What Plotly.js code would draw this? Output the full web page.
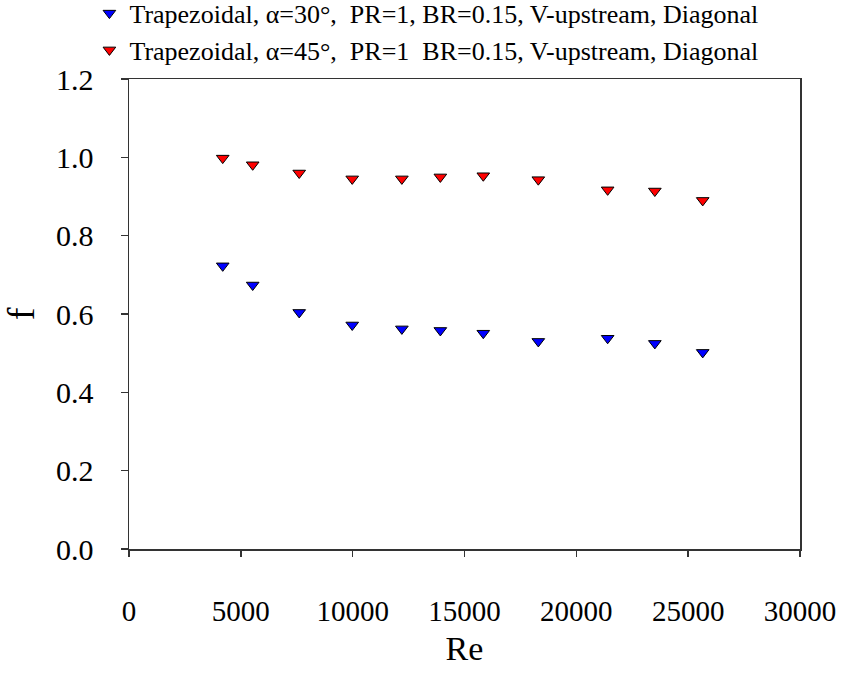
<!DOCTYPE html>
<html>
<head>
<meta charset="utf-8">
<script src="https://cdn.plot.ly/plotly-3.0.1.min.js"></script>
<style>html,body{margin:0;padding:0;background:#fff;}#chart{width:842px;height:673px;}</style>
</head>
<body>
<div id="chart"></div>
<script>
const reA30 = [4190, 5530, 7610, 9980, 12200, 13920, 15840, 18300, 21400, 23510, 25650];
const fA30  = [0.723, 0.674, 0.604, 0.572, 0.562, 0.558, 0.551, 0.530, 0.538, 0.525, 0.502];
const reA45 = [4190, 5530, 7610, 9980, 12200, 13920, 15840, 18300, 21400, 23510, 25650];
const fA45  = [0.998, 0.981, 0.960, 0.945, 0.945, 0.950, 0.953, 0.943, 0.917, 0.914, 0.890];
const seriesNames = [
  "Trapezoidal, α=30°,  PR=1, BR=0.15, V-upstream, Diagonal",
  "Trapezoidal, α=45°,  PR=1  BR=0.15, V-upstream, Diagonal"
];
const xTicks = [0, 5000, 10000, 15000, 20000, 25000, 30000];
const yTicks = [0, 0.2, 0.4, 0.6, 0.8, 1.0, 1.2];

const serif = "'Liberation Serif', 'Times New Roman', Times, serif";
const traces = [
  {x: reA30, y: fA30, name: seriesNames[0], type: "scatter", mode: "markers", legendgroup: "a",
   marker: {symbol: "triangle-down", size: 11, color: "#0000ff", line: {color: "#000", width: 1}}},
  {x: reA45, y: fA45, name: seriesNames[1], type: "scatter", mode: "markers", legendgroup: "b",
   marker: {symbol: "triangle-down", size: 11, color: "#ff0000", line: {color: "#000", width: 1}}}
];
const layout = {
  width: 842, height: 673,
  margin: {l: 129, r: 42, t: 79, b: 124, autoexpand: false},
  paper_bgcolor: "#fff", plot_bgcolor: "#fff",
  font: {family: serif, color: "#000"},
  showlegend: true,
  legend: {x: -0.059, xanchor: "left", y: 1.19, yanchor: "top", font: {family: serif, size: 26, color: "#000"},
           bgcolor: "rgba(0,0,0,0)", tracegroupgap: 0, itemwidth: 30},
  xaxis: {
    range: [0, 30000], tickvals: xTicks, ticktext: xTicks.map(String),
    showgrid: false, zeroline: false, showline: true, linecolor: "#333", linewidth: 1.5, mirror: true,
    ticks: "outside", ticklen: 6, tickcolor: "#333", tickwidth: 1.5,
    ticklabelstandoff: 30,
    tickfont: {family: serif, size: 29, color: "#000"},
    title: {text: "Re", font: {family: serif, size: 34, color: "#000"}, standoff: 10}
  },
  yaxis: {
    range: [0, 1.2], tickvals: yTicks, ticktext: yTicks.map(v => v.toFixed(1)),
    showgrid: false, zeroline: false, showline: true, linecolor: "#333", linewidth: 1.5, mirror: true,
    ticks: "outside", ticklen: 7, tickcolor: "#333", tickwidth: 1.5,
    ticklabelstandoff: 21,
    tickfont: {family: serif, size: 30, color: "#000"},
    title: {text: "f", font: {family: serif, size: 38, color: "#000"}, standoff: 14}
  }
};
Plotly.newPlot("chart", traces, layout, {displayModeBar: false, staticPlot: true});
</script>
</body>
</html>
